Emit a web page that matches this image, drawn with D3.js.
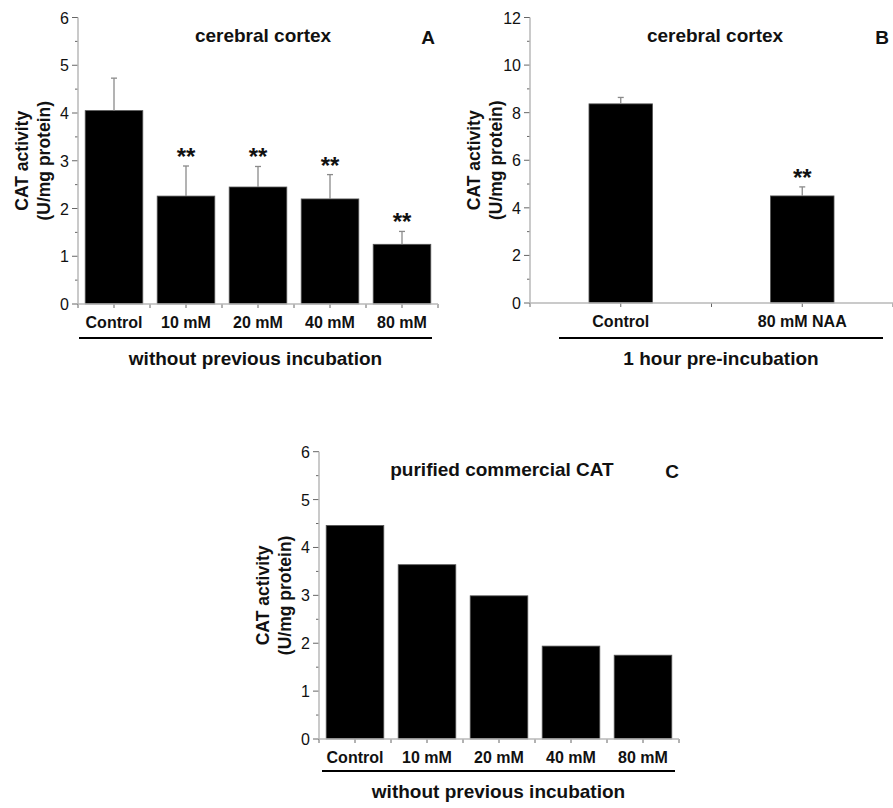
<!DOCTYPE html>
<html>
<head>
<meta charset="utf-8">
<script src="https://cdn.jsdelivr.net/npm/d3@7"></script>
<style>
  body { margin: 0; background: #fff; }
  svg { display: block; font-family: "Liberation Sans", Arial, sans-serif; }
  .tick-label { font-size: 16px; fill: #111; }
  .cat-label { font-size: 16px; font-weight: bold; fill: #111; }
  .bold { font-weight: bold; fill: #111; }
</style>
</head>
<body>
<script>
// Data
const CATS_A   = ["Control", "10 mM", "20 mM", "40 mM", "80 mM"];
const MEAN_A   = [4.05, 2.26, 2.45, 2.20, 1.25];
const ERR_A    = [0.68, 0.63, 0.43, 0.51, 0.27];
const SIG_A    = [false, true, true, true, true];

const CATS_B   = ["Control", "80 mM NAA"];
const MEAN_B   = [8.37, 4.50];
const ERR_B    = [0.27, 0.38];
const SIG_B    = [false, true];

const CATS_C   = ["Control", "10 mM", "20 mM", "40 mM", "80 mM"];
const MEAN_C   = [4.46, 3.64, 2.99, 1.94, 1.75];

const TICKS_6  = [0, 1, 2, 3, 4, 5, 6];
const TICKS_12 = [0, 2, 4, 6, 8, 10, 12];

const svg = d3.select("body").append("svg")
  .attr("width", 893)
  .attr("height", 808);

const AXIS_COL = "#b8b8b8";
const TICK_COL = "#666";
const ERR_COL  = "#8a8a8a";

function drawPanel(p) {
  const g = svg.append("g");

  const x = d3.scaleBand()
    .domain(p.cats)
    .range([p.left, p.right])
    .paddingInner(p.pad)
    .paddingOuter(p.pad / 2);
  const y = d3.scaleLinear()
    .domain([0, p.ymax])
    .range([p.bottom, p.top]);

  // minor y ticks
  const step = p.ticks[1] - p.ticks[0];
  const minor = d3.range(step / 2, p.ymax, step);
  g.selectAll(".minor-y").data(minor).join("line")
    .attr("x1", p.left - 3).attr("x2", p.left)
    .attr("y1", d => y(d)).attr("y2", d => y(d))
    .attr("stroke", TICK_COL);
  g.selectAll(".major-y").data(p.ticks).join("line")
    .attr("x1", p.left - 6).attr("x2", p.left)
    .attr("y1", d => y(d)).attr("y2", d => y(d))
    .attr("stroke", TICK_COL);
  g.selectAll(".ylab").data(p.ticks).join("text")
    .attr("class", "tick-label")
    .attr("x", p.left - 9)
    .attr("y", d => y(d) + 6)
    .attr("text-anchor", "end")
    .text(d => d);

  // x ticks: centers and band boundaries
  const bounds = d3.range(p.cats.length + 1).map(i => p.left + i * x.step());
  g.selectAll(".xb").data(bounds).join("line")
    .attr("x1", d => d).attr("x2", d => d)
    .attr("y1", p.bottom).attr("y2", p.bottom + 4)
    .attr("stroke", TICK_COL);
  g.selectAll(".xc").data(p.cats).join("line")
    .attr("x1", d => x(d) + x.bandwidth() / 2).attr("x2", d => x(d) + x.bandwidth() / 2)
    .attr("y1", p.bottom).attr("y2", p.bottom + 4)
    .attr("stroke", TICK_COL);

  // bars
  g.selectAll(".bar").data(p.means).join("rect")
    .attr("x", (d, i) => x(p.cats[i]))
    .attr("y", d => y(d))
    .attr("width", x.bandwidth())
    .attr("height", d => p.bottom - y(d))
    .attr("fill", "#000")
    .attr("stroke", "#555")
    .attr("stroke-width", 0.8);

  // error bars
  if (p.errs) {
    p.means.forEach((m, i) => {
      const cx = x(p.cats[i]) + x.bandwidth() / 2;
      const top = y(m + p.errs[i]);
      g.append("line")
        .attr("x1", cx).attr("x2", cx)
        .attr("y1", y(m)).attr("y2", top)
        .attr("stroke", ERR_COL).attr("stroke-width", 1.3);
      g.append("line")
        .attr("x1", cx - 3).attr("x2", cx + 3)
        .attr("y1", top).attr("y2", top)
        .attr("stroke", ERR_COL).attr("stroke-width", 1.3);
      if (p.sig[i]) {
        g.append("text")
          .attr("class", "bold")
          .attr("x", cx)
          .attr("y", top - 1)
          .attr("text-anchor", "middle")
          .attr("font-size", 24)
          .text("**");
      }
    });
  }

  // axis lines
  g.append("line")
    .attr("x1", p.left).attr("x2", p.left)
    .attr("y1", p.top).attr("y2", p.bottom)
    .attr("stroke", AXIS_COL).attr("stroke-width", 1.5);
  g.append("line")
    .attr("x1", p.left).attr("x2", p.right)
    .attr("y1", p.bottom).attr("y2", p.bottom)
    .attr("stroke", AXIS_COL).attr("stroke-width", 1.5);

  // category labels
  g.selectAll(".cat").data(p.cats).join("text")
    .attr("class", "cat-label")
    .attr("x", d => x(d) + x.bandwidth() / 2)
    .attr("y", p.bottom + 24)
    .attr("text-anchor", "middle")
    .text(d => d);

  // group line + caption
  g.append("line")
    .attr("x1", p.lineX[0]).attr("x2", p.lineX[1])
    .attr("y1", p.bottom + p.lineDy).attr("y2", p.bottom + p.lineDy)
    .attr("stroke", "#000").attr("stroke-width", 2);
  g.append("text")
    .attr("class", "bold")
    .attr("x", (p.lineX[0] + p.lineX[1]) / 2)
    .attr("y", p.bottom + p.lineDy + 27)
    .attr("text-anchor", "middle")
    .attr("font-size", 19)
    .text(p.caption);

  // title + letter
  g.append("text")
    .attr("class", "bold")
    .attr("x", p.titleX)
    .attr("y", p.top + 24)
    .attr("text-anchor", "middle")
    .attr("font-size", 19)
    .text(p.title);
  g.append("text")
    .attr("class", "bold")
    .attr("x", p.letterX)
    .attr("y", p.top + 26)
    .attr("text-anchor", "middle")
    .attr("font-size", 19)
    .text(p.letter);

  // y label
  const ly = (p.top + p.bottom) / 2;
  const yl = g.append("text")
    .attr("class", "bold")
    .attr("font-size", 17.5)
    .attr("text-anchor", "middle")
    .attr("transform", `translate(${p.left - 50},${ly}) rotate(-90)`);
  yl.append("tspan").attr("x", 0).attr("dy", 0).text("CAT activity");
  yl.append("tspan").attr("x", 0).attr("dy", 22).text("(U/mg protein)");
}

drawPanel({
  cats: CATS_A, means: MEAN_A, errs: ERR_A, sig: SIG_A, ticks: TICKS_6, ymax: 6,
  left: 78, right: 438, top: 17.5, bottom: 304, pad: 0.2,
  title: "cerebral cortex", titleX: 263, letter: "A", letterX: 428,
  caption: "without previous incubation", lineX: [79, 432], lineDy: 34
});

drawPanel({
  cats: CATS_B, means: MEAN_B, errs: ERR_B, sig: SIG_B, ticks: TICKS_12, ymax: 12,
  left: 530, right: 893, top: 17.5, bottom: 303, pad: 0.65,
  title: "cerebral cortex", titleX: 715, letter: "B", letterX: 882,
  caption: "1 hour pre-incubation", lineX: [559, 883], lineDy: 35
});

drawPanel({
  cats: CATS_C, means: MEAN_C, errs: null, sig: null, ticks: TICKS_6, ymax: 6,
  left: 319, right: 679, top: 451.7, bottom: 739, pad: 0.2,
  title: "purified commercial CAT", titleX: 502, letter: "C", letterX: 672,
  caption: "without previous incubation", lineX: [322, 675], lineDy: 32
});
</script>
</body>
</html>
